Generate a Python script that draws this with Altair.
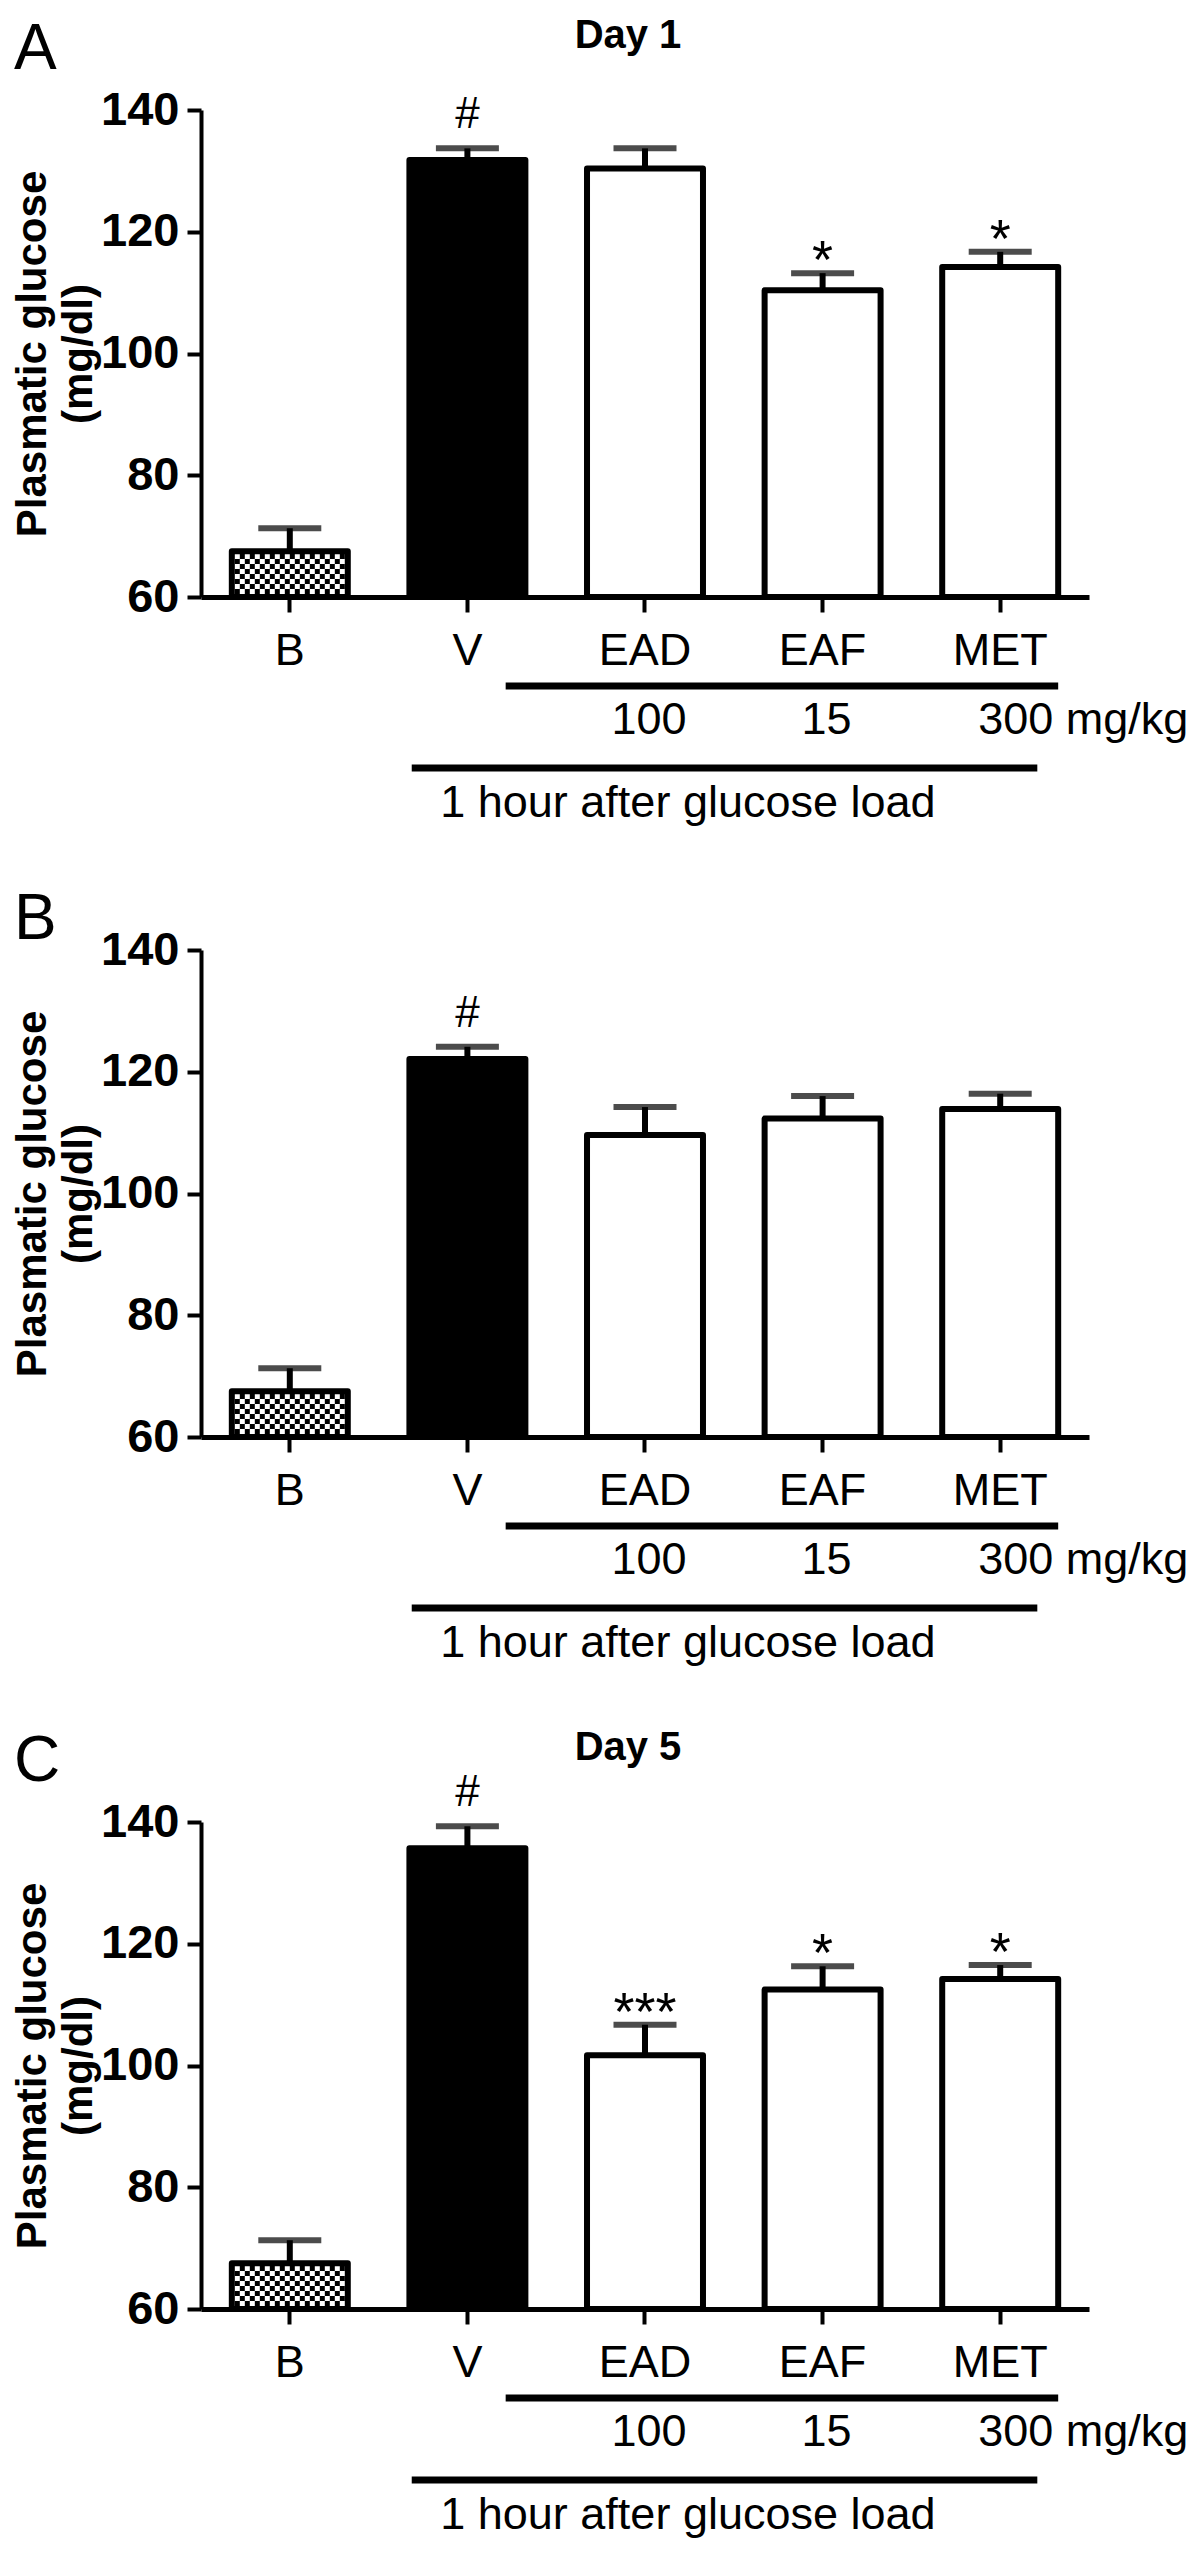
import altair as alt
import pandas as pd

# ---------------- data ----------------
categories = ["B", "V", "EAD", "EAF", "MET"]

day1_mean = [67.5, 131.8, 130.4, 110.4, 114.2]
day1_sem = [3.8, 1.9, 3.3, 2.8, 2.5]
day1_sig = ["", "#", "", "*", "*"]

panelB_mean = [67.5, 122.1, 109.6, 112.3, 113.9]
panelB_sem = [3.8, 2.0, 4.6, 3.7, 2.5]
panelB_sig = ["", "#", "", "", ""]

day5_mean = [67.5, 135.7, 101.7, 112.5, 114.2]
day5_sem = [3.8, 3.6, 5.0, 3.8, 2.3]
day5_sig = ["", "#", "***", "*", "*"]

dose_labels = ["", "", "100", "15", "300 mg/kg"]
y_ticks = [60, 80, 100, 120, 140]
y_title = ["Plasmatic glucose", "(mg/dl)"]
hour_note = "1 hour after glucose load"

# ---------------- style ----------------
FONT = "Liberation Sans"
W, H = 888, 487
PX_PER_UNIT = H / 80.0
P_INNER, P_OUTER = 0.347, 0.1735
STEP = W / (len(categories) - P_INNER + 2 * P_OUTER)
B_START = P_OUTER * STEP
fill_range = ["white", "black", "white", "white", "white"]

xscale = alt.Scale(domain=categories, paddingInner=P_INNER, paddingOuter=P_OUTER)
yscale = alt.Scale(domain=[60, 140], nice=False, zero=False)

xaxis = alt.Axis(title=None, labelAngle=0, labelFont=FONT, labelFontSize=45,
                 labelColor="black", labelPadding=16, tickSize=15, tickWidth=4,
                 tickColor="black", domainColor="black", domainWidth=5)
yaxis = alt.Axis(values=y_ticks, title=y_title, titleFont=FONT, titleFontSize=42,
                 titleFontWeight="bold", titleColor="black", titlePadding=0,
                 titleLineHeight=46,
                 labelFont=FONT, labelFontSize=47, labelFontWeight="bold",
                 labelColor="black", labelPadding=8, tickSize=14, tickWidth=4,
                 tickColor="black", domainColor="black", domainWidth=4, grid=False)


def X(field="cat", **kw):
    return alt.X(f"{field}:N", sort=categories, scale=xscale, axis=xaxis, **kw)


def Y(field):
    return alt.Y(f"{field}:Q", scale=yscale, axis=yaxis, title=y_title)


# checkerboard texture inside the baseline (B) bar: 22 x 8 cells of 5 px
CELL = 5
COLS, ROWS = 22, 8
checker = alt.Chart(alt.sequence(0, COLS * ROWS, as_="i")).transform_calculate(
    row=f"floor(datum.i / {COLS})",
    col=f"datum.i % {COLS}",
).transform_filter(
    "(datum.row + datum.col) % 2 == 0"
).transform_calculate(
    px=f"{B_START + 3} + {CELL} * (datum.col + 0.5)",
    yy=f"60 + (3 + {CELL} * (datum.row + 0.5)) / {PX_PER_UNIT}",
).mark_square(color="black", opacity=1, size=CELL * CELL, strokeWidth=0).encode(
    x=alt.X("px:Q", scale=alt.Scale(domain=[0, W], nice=False, zero=False), axis=None),
    y=Y("yy"),
)


def panel(letter, letter_y, title, mean, sem, sig):
    df = pd.DataFrame({
        "cat": categories,
        "mean": mean,
        "upper": [m + s for m, s in zip(mean, sem)],
        "sig": sig,
        "dose": dose_labels,
    })
    base = alt.Chart(df)

    bars = base.mark_bar(stroke="black", strokeWidth=6, strokeJoin="round").encode(
        x=X(), y=Y("mean"), y2=alt.datum(60),
        fill=alt.Fill("cat:N", scale=alt.Scale(domain=categories, range=fill_range), legend=None),
    )
    err = base.mark_rule(color="black", strokeWidth=6).encode(
        x=X(), y=Y("mean"), y2="upper:Q")
    cap = base.mark_tick(color="black", size=63, thickness=6).encode(
        x=X(), y=Y("upper"))

    hashes = base.transform_filter(alt.datum.sig == "#").mark_text(
        font=FONT, fontSize=44, color="black", baseline="alphabetic", dy=-20
    ).encode(x=X(), y=Y("upper"), text="sig:N")
    stars = base.transform_filter(alt.expr.indexof(alt.datum.sig, "*") >= 0).mark_text(
        font=FONT, fontSize=54, color="black", baseline="alphabetic", dy=5
    ).encode(x=X(), y=Y("upper"), text="sig:N")

    doses_c = base.transform_filter(
        (alt.datum.dose != "") & (alt.datum.cat != "MET")).mark_text(
        font=FONT, fontSize=45, color="black", baseline="alphabetic", align="center", dx=4
    ).encode(x=X(), y=alt.value(H + 137), text="dose:N")
    doses_l = base.transform_filter(alt.datum.cat == "MET").mark_text(
        font=FONT, fontSize=45, color="black", baseline="alphabetic", align="left", dx=-22
    ).encode(x=X(), y=alt.value(H + 137), text="dose:N")

    brackets = pd.DataFrame({
        "from": ["V", "V"], "to": ["MET", "MET"], "row": ["dose", "hour"]})
    line1 = alt.Chart(brackets[brackets.row == "dose"]).mark_rule(
        color="black", strokeWidth=7).encode(
        x=X("from", bandPosition=0.83), x2=alt.X2("to:N", bandPosition=1.0),
        y=alt.value(H + 89))
    line2 = alt.Chart(brackets[brackets.row == "hour"]).mark_rule(
        color="black", strokeWidth=7).encode(
        x=X("from", bandPosition=0.02), x2=alt.X2("to:N", bandPosition=0.82),
        y=alt.value(H + 171))
    note = alt.Chart(pd.DataFrame({"cat": ["EAD"], "t": [hour_note]})).mark_text(
        font=FONT, fontSize=45, color="black", baseline="alphabetic", align="center"
    ).encode(x=X("cat", bandPosition=0.87), y=alt.value(H + 220), text="t:N")

    lab = alt.Chart(pd.DataFrame({"t": [letter]})).mark_text(
        font=FONT, fontSize=64, color="black", baseline="top", align="left"
    ).encode(x=alt.value(-187), y=alt.value(letter_y), text="t:N")

    layers = [bars, err, cap, hashes, stars, doses_c, doses_l,
              line1, line2, note, lab]
    if title:
        ttl = alt.Chart(pd.DataFrame({"t": [title]})).mark_text(
            font=FONT, fontSize=40, fontWeight="bold", color="black",
            baseline="alphabetic", align="center"
        ).encode(x=alt.value(427), y=alt.value(-62), text="t:N")
        layers.append(ttl)

    main = alt.layer(*layers)
    return alt.layer(main, checker).resolve_scale(x="independent").properties(
        width=W, height=H)


pA = panel("A", -92, "Day 1", day1_mean, day1_sem, day1_sig)
pB = panel("B", -62, "", panelB_mean, panelB_sem, panelB_sig)
pC = panel("C", -92, "Day 5", day5_mean, day5_sem, day5_sig)

chart = alt.vconcat(pA, pB, pC, spacing=62).properties(
    padding={"left": 3, "top": 8, "right": 0, "bottom": 0}, background="white"
).configure_view(stroke=None)

chart.save("out.html", embed_options={"renderer": "svg", "actions": False})
